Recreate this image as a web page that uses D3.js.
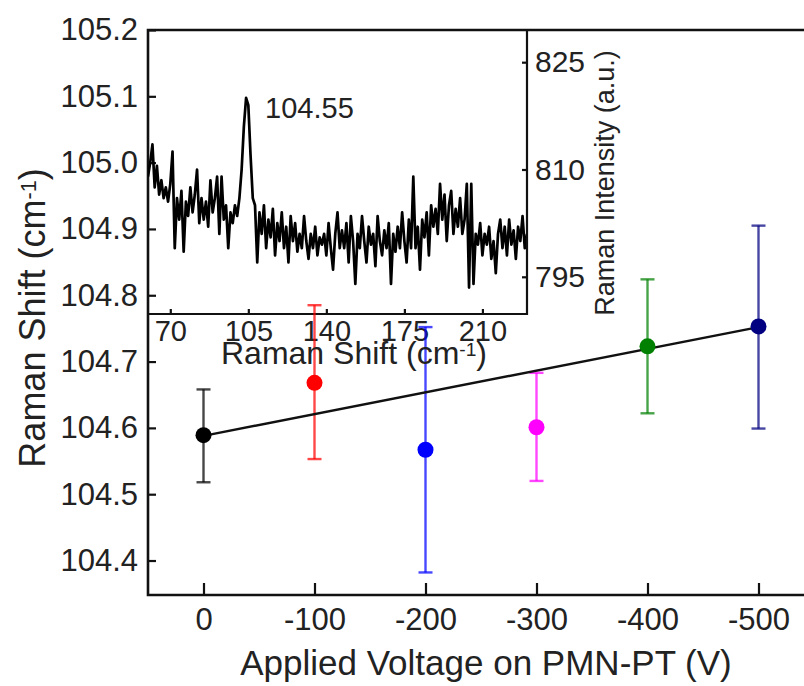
<!DOCTYPE html>
<html>
<head>
<meta charset="utf-8">
<script src="https://cdn.jsdelivr.net/npm/d3@7/dist/d3.min.js"></script>
<style>
    html, body { margin: 0; padding: 0; background: #fff; }
    svg { display: block; font-family: "Liberation Sans", Arial, sans-serif; }
    .axis text { fill: #222; }
    .axis line { stroke: #111; stroke-width: 2.2px; }
</style>
</head>
<body>
<svg id="Chart" width="804" height="686"></svg>
<script>
// main plot: applied voltage vs Raman shift
var voltages   = [0, -100, -200, -300, -400, -500];
var shifts     = [104.589, 104.668, 104.567, 104.601, 104.723, 104.753];
var errLow     = [104.518, 104.553, 104.382, 104.520, 104.622, 104.599];
var errHigh    = [104.658, 104.785, 104.752, 104.683, 104.824, 104.905];
var dotColors  = ['#000000', '#ff0000', '#0000ff', '#ff00ff', '#008000', '#000080'];
var fitVolts   = [0, -500];
var fitShifts  = [104.588, 104.752];
var xTicks     = [0, -100, -200, -300, -400, -500];
var yTicks     = [104.4, 104.5, 104.6, 104.7, 104.8, 104.9, 105.0, 105.1, 105.2];

// inset: Raman spectrum, one value per cm-1 from 60 to 230
var specStart  = 60;
var specIntensity = [
    809, 811, 813.5, 807.5, 810.5, 806.5, 808.5, 806, 807.5, 805.5,
    808, 812.5, 799, 806, 803, 807, 798.5, 805.5, 803.5, 807.5,
    804, 806.5, 810, 802.5, 806, 803, 805.5, 802, 808.5, 804,
    806, 809, 801, 809, 803, 805, 799, 804, 802.5, 805,
    803.5, 806, 810, 816, 820, 819, 812, 806, 805, 797,
    804, 801, 805, 799, 803, 800.5, 804.5, 798, 802.5, 800,
    804, 799, 802, 797, 803.5, 800, 802.5, 798.5, 801, 799,
    803.5, 800, 797.5, 801, 799, 802, 798, 800.5, 799.5, 801,
    798, 802.5, 799, 796, 801, 804, 799, 801.5, 799, 802.5,
    797, 803.5, 800, 794, 801, 799, 803.5, 800, 797, 802,
    799.5, 801, 796.5, 803.5, 800, 798, 801.5, 799, 802.5, 794,
    801, 798.5, 802, 799, 804, 800, 797, 803, 799, 809,
    799, 802, 796, 803, 800.5, 804, 798, 805, 802, 804.5,
    801, 808, 803, 806.5, 800, 805, 807, 801, 804.5, 802,
    806, 801, 803, 808, 793.5, 808, 794, 801, 799.5, 802.5,
    798, 801, 799.5, 802, 797.5, 800, 795.5, 801, 803, 799,
    802, 798, 803, 799.5, 801.5, 797.5, 802, 800, 803.5, 799, 801
];
var insetXTicks = [70, 105, 140, 175, 210];
var insetYTicks = [795, 810, 825];
var peakLabel   = '104.55';

(function(d3) {
    'use strict';

    var svg = d3.select('#Chart');

    /******************************************************************
        scales
     ******************************************************************/
    var x = d3.scaleLinear().domain([50, -550]).range([148, 814]);
    var y = d3.scaleLinear().domain([104.348, 105.2]).range([595, 30]);

    var xi = d3.scaleLinear().domain([60, 230]).range([148, 527]);
    var yi = d3.scaleLinear().domain([789.8, 829.5]).range([314, 30]);

    /******************************************************************
        main axes
     ******************************************************************/
    svg.append('g')
        .attr('class', 'axis')
        .attr('transform', 'translate(148,0)')
        .call(d3.axisLeft(y)
            .tickValues(yTicks)
            .tickFormat(d3.format('.1f'))
            .tickSizeInner(-8).tickSizeOuter(0).tickPadding(10))
        .call(function(g) { g.select('.domain').remove(); })
        .selectAll('text').style('font-size', '31px');

    svg.append('g')
        .attr('class', 'axis')
        .attr('transform', 'translate(0,595)')
        .call(d3.axisBottom(x)
            .tickValues(xTicks)
            .tickFormat(function(d) { return String(d); })
            .tickSizeInner(-12).tickSizeOuter(0).tickPadding(13))
        .call(function(g) { g.select('.domain').remove(); })
        .selectAll('text').style('font-size', '31px');

    // frame (right side runs off the picture)
    svg.append('path')
        .attr('d', 'M820 30 H148 V595 H820')
        .attr('fill', 'none')
        .attr('stroke', '#111')
        .attr('stroke-width', 2.6);

    /******************************************************************
        inset spectrum
     ******************************************************************/
    svg.append('clipPath').attr('id', 'InsetClip')
        .append('rect')
        .attr('x', 148).attr('y', 30)
        .attr('width', 527 - 148).attr('height', 314 - 30);

    var spectrum = d3.line()
        .x(function(d, i) { return xi(specStart + i); })
        .y(function(d) { return yi(d); });

    svg.append('path')
        .datum(specIntensity)
        .attr('clip-path', 'url(#InsetClip)')
        .attr('d', spectrum)
        .attr('fill', 'none')
        .attr('stroke', '#000')
        .attr('stroke-width', 2.7)
        .attr('stroke-linejoin', 'round');

    svg.append('g')
        .attr('class', 'axis')
        .attr('transform', 'translate(0,314)')
        .call(d3.axisBottom(xi)
            .tickValues(insetXTicks)
            .tickSizeInner(-5).tickSizeOuter(0).tickPadding(6))
        .call(function(g) { g.select('.domain').remove(); })
        .selectAll('text').style('font-size', '29px');

    svg.append('g')
        .attr('class', 'axis')
        .attr('transform', 'translate(527,0)')
        .call(d3.axisRight(yi)
            .tickValues(insetYTicks)
            .tickSizeInner(-5).tickSizeOuter(0).tickPadding(8))
        .call(function(g) { g.select('.domain').remove(); })
        .selectAll('text').style('font-size', '30px');

    svg.append('path')
        .attr('d', 'M148 314 H527 V30')
        .attr('fill', 'none')
        .attr('stroke', '#111')
        .attr('stroke-width', 2.2);

    var peakIdx = d3.maxIndex(specIntensity);
    svg.append('text')
        .attr('x', xi(specStart + peakIdx) + 19)
        .attr('y', yi(specIntensity[peakIdx]) + 20)
        .style('font-size', '29px')
        .style('fill', '#222')
        .text(peakLabel);

    /******************************************************************
        error bars, fit line, points
     ******************************************************************/
    var bars = svg.append('g').selectAll('g')
        .data(voltages)
        .join('g')
        .attr('stroke', function(d, i) { return dotColors[i]; })
        .attr('stroke-opacity', 0.72)
        .attr('stroke-width', 2.4);

    bars.append('line')
        .attr('x1', function(d) { return x(d); })
        .attr('x2', function(d) { return x(d); })
        .attr('y1', function(d, i) { return y(errLow[i]); })
        .attr('y2', function(d, i) { return y(errHigh[i]); });

    bars.selectAll('line.cap')
        .data(function(d, i) { return [[d, errLow[i]], [d, errHigh[i]]]; })
        .join('line')
        .attr('class', 'cap')
        .attr('x1', function(d) { return x(d[0]) - 7; })
        .attr('x2', function(d) { return x(d[0]) + 7; })
        .attr('y1', function(d) { return y(d[1]); })
        .attr('y2', function(d) { return y(d[1]); });

    svg.append('path')
        .datum(d3.zip(fitVolts, fitShifts))
        .attr('d', d3.line()
            .x(function(d) { return x(d[0]); })
            .y(function(d) { return y(d[1]); }))
        .attr('stroke', '#111')
        .attr('stroke-width', 2.4)
        .attr('fill', 'none');

    svg.append('g').selectAll('circle')
        .data(voltages)
        .join('circle')
        .attr('cx', function(d) { return x(d); })
        .attr('cy', function(d, i) { return y(shifts[i]); })
        .attr('r', 8)
        .attr('fill', function(d, i) { return dotColors[i]; });

    /******************************************************************
        titles
     ******************************************************************/
    function raman(sel) {
        sel.append('tspan').text('Raman Shift (cm');
        sel.append('tspan').attr('dy', '-0.42em').style('font-size', '0.6em').text('-1');
        sel.append('tspan').attr('dy', '0.25em').text(')');
    }

    svg.append('text')
        .attr('transform', 'translate(45,318) rotate(-90)')
        .attr('text-anchor', 'middle')
        .style('font-size', '36px')
        .style('fill', '#222')
        .call(raman);

    svg.append('text')
        .attr('x', 486).attr('y', 675)
        .attr('text-anchor', 'middle')
        .style('font-size', '35px')
        .style('fill', '#222')
        .text('Applied Voltage on PMN-PT (V)');

    svg.append('text')
        .attr('x', 354).attr('y', 364)
        .attr('text-anchor', 'middle')
        .style('font-size', '32px')
        .style('fill', '#222')
        .call(raman);

    svg.append('text')
        .attr('transform', 'translate(614,183) rotate(-90)')
        .attr('text-anchor', 'middle')
        .style('font-size', '27px')
        .style('fill', '#222')
        .text('Raman Intensity (a.u.)');
})(d3);
</script>
</body>
</html>
